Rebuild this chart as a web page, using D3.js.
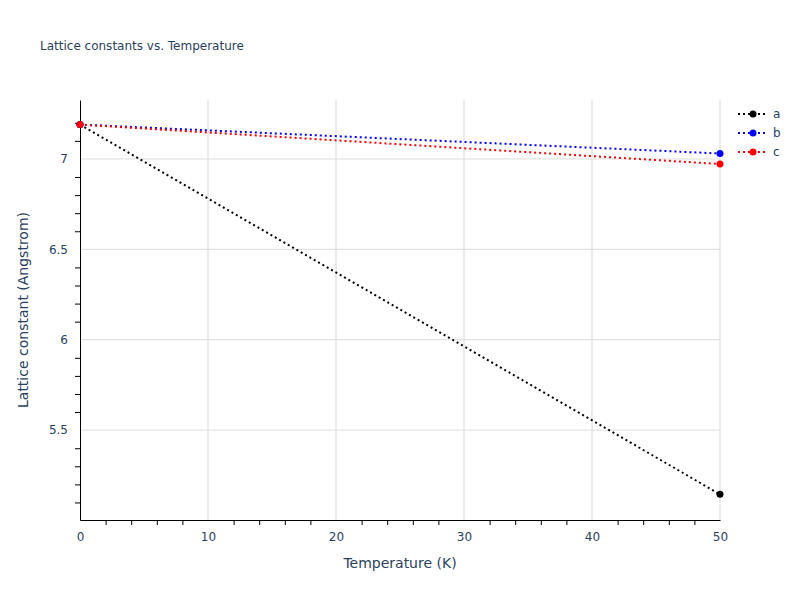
<!DOCTYPE html>
<html><head><meta charset="utf-8">
<script src="https://cdn.jsdelivr.net/npm/d3@7"></script>
<style>body{margin:0;background:#fff}text{font-family:"DejaVu Sans",Verdana,sans-serif}</style>
</head><body><div id="chart"></div>
<script>
// data
const temps = [0, 50];
const seriesNames = ["a", "b", "c"];
const seriesColors = ["black", "blue", "red"];
const aVals = [7.19, 5.145];
const bVals = [7.19, 7.03];
const cVals = [7.19, 6.972];
const xTicks = [0, 10, 20, 30, 40, 50];
const yTicks = [5.5, 6, 6.5, 7];

const W = 800, H = 600;
const m = { top: 100, right: 80, bottom: 80, left: 80 };
const svg = d3.select('#chart').append('svg').attr('width', W).attr('height', H);

const x = d3.scaleLinear().domain([0, 50]).range([m.left, W - m.right]);
const y = d3.scaleLinear().domain([5.003, 7.326]).range([H - m.bottom, m.top]);

// grid
svg.append('g').selectAll('line').data(xTicks.slice(1)).enter().append('line')
  .attr('x1', d => x(d)).attr('x2', d => x(d)).attr('y1', m.top).attr('y2', H - m.bottom)
  .attr('stroke', '#e5e5e5').attr('stroke-width', 1.5);
svg.append('g').selectAll('line').data(yTicks).enter().append('line')
  .attr('x1', m.left).attr('x2', W - m.right).attr('y1', d => y(d)).attr('y2', d => y(d))
  .attr('stroke', '#dddddd');

// axes
const xAxis = svg.append('g').attr('transform', `translate(0,${H - m.bottom})`)
  .call(d3.axisBottom(x).tickValues(xTicks).tickSize(0).tickPadding(12));
xAxis.select('.domain').attr('stroke', 'black');
svg.append('g').attr('transform', `translate(0,${H - m.bottom})`)
  .call(d3.axisBottom(x).tickValues(d3.range(2, 50, 2).filter(v => v % 10)).tickSize(5).tickFormat(''))
  .call(g => g.select('.domain').remove());
const yAxis = svg.append('g').attr('transform', `translate(${m.left},0)`)
  .call(d3.axisLeft(y).tickValues(yTicks).tickSize(0).tickPadding(12).tickFormat(d3.format('')));
yAxis.select('.domain').attr('stroke', 'black');
svg.append('g').attr('transform', `translate(${m.left},0)`)
  .call(d3.axisLeft(y).tickValues(d3.range(51, 73).map(v => v / 10).filter(v => Math.round(v * 10) % 5)).tickSize(5).tickFormat(''))
  .call(g => g.select('.domain').remove());
svg.selectAll('.tick text').attr('fill', '#2a3f5f').style('font-size', '12px');

// series
const allVals = [aVals, bVals, cVals];
const line = d3.line().x((d, i) => x(temps[i])).y(d => y(d));
allVals.forEach((vals, k) => {
  svg.append('path').datum(vals).attr('d', line).attr('fill', 'none')
    .attr('stroke', seriesColors[k]).attr('stroke-width', 2).attr('stroke-dasharray', '2,3');
  svg.append('g').selectAll('circle').data(vals).enter().append('circle')
    .attr('cx', (d, i) => x(temps[i])).attr('cy', d => y(d)).attr('r', 3.5).attr('fill', seriesColors[k]);
});

// legend
seriesNames.forEach((n, k) => {
  const g = svg.append('g').attr('transform', `translate(738,${114 + k * 19})`);
  g.append('line').attr('x1', 0).attr('x2', 30).attr('stroke', seriesColors[k])
    .attr('stroke-width', 2).attr('stroke-dasharray', '2,3');
  g.append('circle').attr('cx', 15).attr('r', 3.5).attr('fill', seriesColors[k]);
  g.append('text').attr('x', 35).attr('y', 4).text(n).attr('fill', '#2a3f5f').style('font-size', '12px');
});

// titles
svg.append('text').attr('x', 40).attr('y', 50).text('Lattice constants vs. Temperature')
  .attr('fill', '#2a3f5f').style('font-size', '12px');
svg.append('text').attr('x', x(25)).attr('y', 568).attr('text-anchor', 'middle')
  .text('Temperature (K)').attr('fill', '#2a3f5f').style('font-size', '14px');
svg.append('text').attr('transform', `translate(28,${(m.top + H - m.bottom) / 2}) rotate(-90)`)
  .attr('text-anchor', 'middle').text('Lattice constant (Angstrom)').attr('fill', '#2a3f5f').style('font-size', '14px');
</script></body></html>
